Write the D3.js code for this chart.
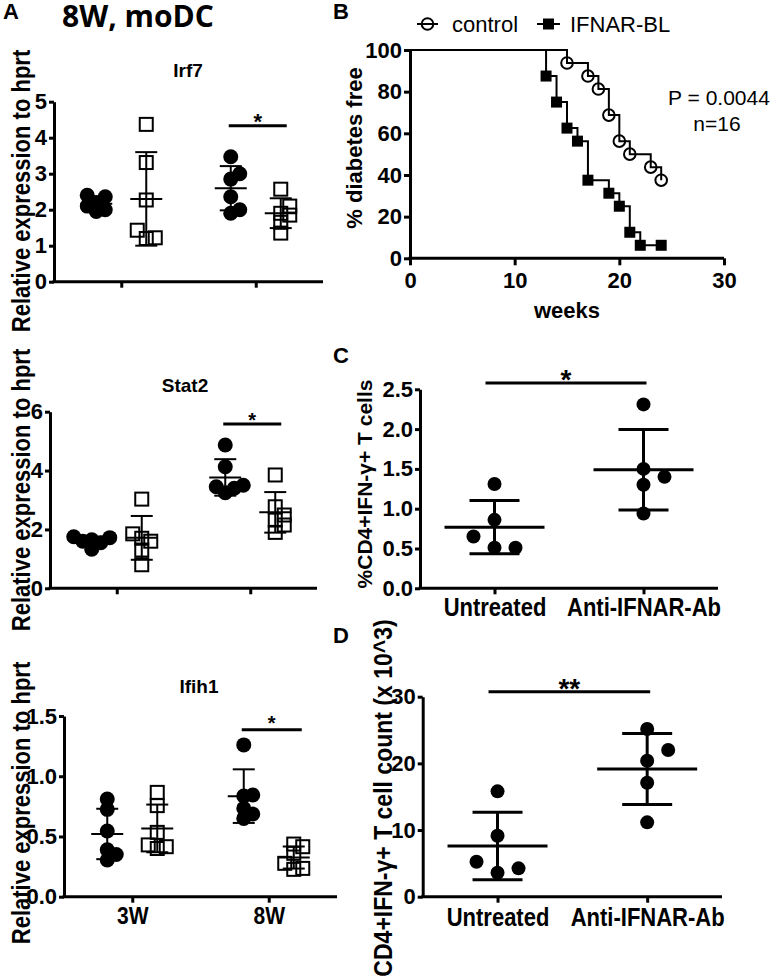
<!DOCTYPE html>
<html>
<head>
<meta charset="utf-8">
<script src="https://cdn.jsdelivr.net/npm/d3@7"></script>
<style>
  html, body { margin: 0; padding: 0; background: #fff; }
  svg { display: block; }
</style>
</head>
<body>
<svg id="chart" width="774" height="977"></svg>
<script>
// ---------------- DATA ----------------
const ageCategories = ["3W", "8W"];

// Panel A (moDC gene expression); control = filled circles, IFNAR-BL = open squares
const irf7Control3W = [2.36, 2.4, 2.2, 2.1, 1.95, 2.0];
const irf7Blocked3W = [4.37, 3.31, 2.27, 1.43, 1.22, 1.2];
const irf7Control8W = [3.47, 3.0, 2.85, 2.36, 1.9, 2.0];
const irf7Blocked8W = [2.57, 2.1, 1.9, 1.85, 1.65, 1.35];
const irf7Ticks = [0, 1, 2, 3, 4, 5];

const stat2Control3W = [1.75, 1.72, 1.65, 1.6, 1.55, 1.33];
const stat2Blocked3W = [3.03, 1.85, 1.7, 1.6, 1.3, 0.8];
const stat2Control8W = [4.87, 4.13, 3.5, 3.45, 3.4, 3.25];
const stat2Blocked8W = [3.85, 2.77, 2.49, 2.32, 2.15, 1.9];
const stat2Ticks = [0, 2, 4, 6];

const ifih1Control3W = [0.81, 0.725, 0.545, 0.39, 0.35, 0.305];
const ifih1Blocked3W = [0.866, 0.756, 0.534, 0.43, 0.415, 0.4];
const ifih1Control8W = [1.26, 0.844, 0.836, 0.733, 0.686, 0.65];
const ifih1Blocked8W = [0.437, 0.415, 0.36, 0.277, 0.235, 0.227];
const ifih1Ticks = [0, 0.5, 1.0, 1.5];

// Panel B (diabetes-free survival)
const controlWeeks = [0, 15, 17, 18, 19, 20, 21, 23, 24];
const controlFree  = [100, 93.75, 87.5, 81.25, 68.75, 56.25, 50, 43.75, 37.5];
const blockedWeeks = [0, 13, 14, 15, 16, 17, 19, 20, 21, 22, 24];
const blockedFree  = [100, 87.5, 75, 62.5, 56.25, 37.5, 31.25, 25, 12.5, 6.25, 6.25];
const survivalXTicks = [0, 10, 20, 30];
const survivalYTicks = [0, 20, 40, 60, 80, 100];
const seriesNames = ["control", "IFNAR-BL"];

// Panels C and D
const treatmentCategories = ["Untreated", "Anti-IFNAR-Ab"];
const pctUntreated = [1.31, 0.86, 0.65, 0.51, 0.51];
const pctAntiIfnar = [2.31, 1.5, 1.4, 1.3, 0.94];
const pctTicks = [0, 0.5, 1.0, 1.5, 2.0, 2.5];
const countUntreated = [15.8, 9.15, 5.25, 4.25, 3.6];
const countAntiIfnar = [25.15, 22.0, 20.4, 17.1, 11.15];
const countTicks = [0, 10, 20, 30];

// ---------------- DRAWING ----------------
const FONT = "'Liberation Sans', Arial, Helvetica, sans-serif";
const svg = d3.select("#chart");

// draw text at a larger size but squeezed to the advance width of a smaller size (narrow look)
function condense(sel, baseSize, bigSize) {
  sel.each(function () {
    const t = d3.select(this);
    t.style("font-size", baseSize + "px");
    const w = this.getComputedTextLength();
    t.style("font-size", bigSize + "px").attr("textLength", w).attr("lengthAdjust", "spacingAndGlyphs");
  });
}

function swarmOffsets(vals, y, step, minDist) {
  const order = vals.map((v, i) => i).sort((a, b) => vals[a] - vals[b]);
  const placed = [];
  const off = new Array(vals.length).fill(0);
  order.forEach(i => {
    const py = y(vals[i]);
    for (let k = 0; k < 30; k++) {
      const slot = k === 0 ? 0 : (k % 2 === 1 ? (k + 1) / 2 : -k / 2);
      if (!placed.some(p => p.slot === slot && Math.abs(p.y - py) < minDist)) {
        placed.push({ slot, y: py });
        off[i] = slot * step;
        break;
      }
    }
  });
  return off;
}

function styleAxis(g, width, fontSize) {
  g.select(".domain").attr("stroke", "#000").attr("stroke-width", width);
  g.selectAll(".tick line").attr("stroke", "#000").attr("stroke-width", width);
  g.selectAll(".tick text").attr("fill", "#000")
    .style("font-family", FONT).style("font-weight", "bold").style("font-size", fontSize + "px");
}

function dotPanel(cfg) {
  const g = svg.append("g");
  const x = d3.scalePoint().domain(cfg.categories).range([cfg.x0, cfg.x1]).padding(0.5);
  const y = d3.scaleLinear().domain([0, cfg.yMax]).range([cfg.y0, cfg.y1]);

  // axes
  const ya = g.append("g").attr("transform", `translate(${cfg.x0},0)`)
    .call(d3.axisLeft(y).tickValues(cfg.ticks).tickFormat(cfg.format || d3.format("d"))
      .tickSize(5).tickSizeOuter(0).tickPadding(cfg.yPad || 2));
  styleAxis(ya, 3, cfg.tickFont);
  const xa = g.append("g").attr("transform", `translate(0,${cfg.y0})`)
    .call(d3.axisBottom(x).tickSize(6).tickSizeOuter(0).tickPadding(cfg.xPad || 6));
  styleAxis(xa, 3, cfg.xFont || cfg.tickFont);
  if (!cfg.showXLabels) xa.selectAll(".tick text").remove();
  else if (cfg.xBig) condense(xa.selectAll(".tick text"), cfg.xFont, cfg.xBig);
  xa.select(".domain").attr("d", `M${cfg.x0 - 1.5},0H${cfg.x1}`);

  // groups
  cfg.groups.forEach(gr => {
    const cx = x(gr.cat) + gr.offset;
    const offs = swarmOffsets(gr.values, y, cfg.step, cfg.minDist);
    const pts = g.append("g");
    gr.values.forEach((v, i) => {
      if (gr.shape === "circle") {
        pts.append("circle").attr("cx", cx + offs[i]).attr("cy", y(v)).attr("r", cfg.r).attr("fill", "#000");
      } else {
        const s = cfg.sq;
        pts.append("rect").attr("x", cx + offs[i] - s / 2).attr("y", y(v) - s / 2)
          .attr("width", s).attr("height", s).attr("fill", "none").attr("stroke", "#000").attr("stroke-width", 2);
      }
    });
    const m = d3.mean(gr.values), sd = d3.deviation(gr.values);
    const eb = g.append("g").attr("stroke", "#000").attr("stroke-width", cfg.ebWidth);
    eb.append("line").attr("x1", cx - cfg.meanHalf).attr("x2", cx + cfg.meanHalf).attr("y1", y(m)).attr("y2", y(m));
    eb.append("line").attr("x1", cx).attr("x2", cx).attr("y1", y(m - sd)).attr("y2", y(m + sd));
    [m - sd, m + sd].forEach(v => eb.append("line").attr("x1", cx - cfg.capHalf).attr("x2", cx + cfg.capHalf)
      .attr("y1", y(v)).attr("y2", y(v)));
  });

  // significance
  const s = cfg.sig;
  const sx1 = x(s.fromCat) + s.fromOff, sx2 = x(s.toCat) + s.toOff;
  g.append("line").attr("x1", sx1).attr("x2", sx2).attr("y1", y(s.yVal)).attr("y2", y(s.yVal))
    .attr("stroke", "#000").attr("stroke-width", 3);
  g.append("text").attr("x", (sx1 + sx2) / 2).attr("y", y(s.yVal) + s.starDy)
    .attr("text-anchor", "middle").style("font-family", FONT).style("font-weight", "bold")
    .style("font-size", s.starSize + "px").text(s.label);

  // title
  if (cfg.title) {
    g.append("text").attr("x", cfg.titleX).attr("y", cfg.titleY).attr("text-anchor", "middle")
      .style("font-family", FONT).style("font-weight", "bold").style("font-size", "19px").text(cfg.title);
  }
  // y label
  const yl = g.append("text").attr("transform", `translate(${cfg.ylX},${cfg.ylY}) rotate(-90)`)
    .attr("text-anchor", "middle").style("font-family", FONT).style("font-weight", "bold")
    .style("font-size", cfg.ylFont + "px").text(cfg.ylabel);
  if (cfg.ylBig) condense(yl, cfg.ylFont, cfg.ylBig);
}

const aCommon = {
  categories: ageCategories, r: 7.5, sq: 13, step: 9, minDist: 9,
  meanHalf: 16, capHalf: 11, ebWidth: 2, tickFont: 22, ylFont: 22, ylBig: 25,
  ylabel: "Relative expression to hprt", ylX: 30
};

dotPanel(Object.assign({}, aCommon, {
  x0: 54, x1: 323, y0: 281.7, y1: 101.7, yMax: 5, ticks: irf7Ticks,
  groups: [
    { cat: "3W", offset: -25, values: irf7Control3W, shape: "circle" },
    { cat: "3W", offset: 25, values: irf7Blocked3W, shape: "square" },
    { cat: "8W", offset: -25, values: irf7Control8W, shape: "circle" },
    { cat: "8W", offset: 25, values: irf7Blocked8W, shape: "square" }
  ],
  sig: { fromCat: "8W", fromOff: -27, toCat: "8W", toOff: 31, yVal: 4.33, label: "*", starSize: 22, starDy: 3 },
  title: "Irf7", titleX: 188, titleY: 77, ylY: 191
}));

dotPanel(Object.assign({}, aCommon, {
  x0: 50, x1: 317, y0: 588.3, y1: 411.7, yMax: 6, ticks: stat2Ticks,
  groups: [
    { cat: "3W", offset: -25, values: stat2Control3W, shape: "circle" },
    { cat: "3W", offset: 25, values: stat2Blocked3W, shape: "square" },
    { cat: "8W", offset: -25, values: stat2Control8W, shape: "circle" },
    { cat: "8W", offset: 25, values: stat2Blocked8W, shape: "square" }
  ],
  sig: { fromCat: "8W", fromOff: -27, toCat: "8W", toOff: 31, yVal: 5.58, label: "*", starSize: 20, starDy: 3 },
  title: "Stat2", titleX: 185, titleY: 392, ylY: 490
}));

dotPanel(Object.assign({}, aCommon, {
  x0: 64, x1: 337, y0: 896.7, y1: 716, yMax: 1.5, ticks: ifih1Ticks, format: d3.format(".1f"),
  showXLabels: true, xFont: 21, xBig: 23, xPad: 5,
  groups: [
    { cat: "3W", offset: -25, values: ifih1Control3W, shape: "circle" },
    { cat: "3W", offset: 25, values: ifih1Blocked3W, shape: "square" },
    { cat: "8W", offset: -25, values: ifih1Control8W, shape: "circle" },
    { cat: "8W", offset: 25, values: ifih1Blocked8W, shape: "square" }
  ],
  sig: { fromCat: "8W", fromOff: -27, toCat: "8W", toOff: 33, yVal: 1.385, label: "*", starSize: 20, starDy: 0 },
  title: "Ifih1", titleX: 199, titleY: 693, ylY: 803
}));

const cdCommon = {
  categories: treatmentCategories, r: 7, sq: 13, step: 21, minDist: 15,
  meanHalf: 50, capHalf: 25, ebWidth: 3, tickFont: 22, xFont: 22, xBig: 26, showXLabels: true
};

dotPanel(Object.assign({}, cdCommon, {
  x0: 420, x1: 718, y0: 588.3, y1: 389.3, yMax: 2.5, ticks: pctTicks, format: d3.format(".1f"),
  xPad: 3,
  groups: [
    { cat: "Untreated", offset: 0, values: pctUntreated, shape: "circle" },
    { cat: "Anti-IFNAR-Ab", offset: 0, values: pctAntiIfnar, shape: "circle" }
  ],
  sig: { fromCat: "Untreated", fromOff: -9, toCat: "Anti-IFNAR-Ab", toOff: 3, yVal: 2.58, label: "*", starSize: 28, starDy: 6 },
  ylabel: "%CD4+IFN-\u03b3+ T cells", ylX: 372, ylY: 484, ylFont: 21
}));

dotPanel(Object.assign({}, cdCommon, {
  x0: 422.7, x1: 722, y0: 896.7, y1: 696.7, yMax: 30, ticks: countTicks,
  xPad: 5,
  groups: [
    { cat: "Untreated", offset: 0, values: countUntreated, shape: "circle" },
    { cat: "Anti-IFNAR-Ab", offset: 0, values: countAntiIfnar, shape: "circle" }
  ],
  sig: { fromCat: "Untreated", fromOff: -9, toCat: "Anti-IFNAR-Ab", toOff: 3, yVal: 30.75, label: "**", starSize: 28, starDy: 6 },
  ylabel: "CD4+IFN-\u03b3+ T cell count (x 10^3)", ylX: 392, ylY: 798, ylFont: 23, ylBig: 26
}));

// ---------------- Panel B ----------------
(function () {
  const g = svg.append("g");
  const x = d3.scaleLinear().domain([0, 30]).range([410, 724]);
  const y = d3.scaleLinear().domain([0, 100]).range([258.3, 50]);
  const ya = g.append("g").attr("transform", "translate(410,0)")
    .call(d3.axisLeft(y).tickValues(survivalYTicks).tickSize(6).tickSizeOuter(0).tickPadding(2));
  styleAxis(ya, 3, 22);
  const xa = g.append("g").attr("transform", "translate(0,258.3)")
    .call(d3.axisBottom(x).tickValues(survivalXTicks).tickSize(7).tickSizeOuter(0).tickPadding(7));
  styleAxis(xa, 3, 22);
  xa.select(".domain").attr("d", "M408.5,0H724");

  const line = d3.line().x(d => x(d[0])).y(d => y(d[1])).curve(d3.curveStepAfter);
  const ctrl = controlWeeks.map((w, i) => [w, controlFree[i]]);
  const blk = blockedWeeks.map((w, i) => [w, blockedFree[i]]);
  g.append("path").attr("d", line(blk)).attr("fill", "none").attr("stroke", "#000").attr("stroke-width", 2);
  g.append("path").attr("d", line(ctrl)).attr("fill", "none").attr("stroke", "#000").attr("stroke-width", 2);
  blk.slice(1).forEach(d => g.append("rect").attr("x", x(d[0]) - 5.5).attr("y", y(d[1]) - 5.5)
    .attr("width", 11).attr("height", 11).attr("fill", "#000"));
  ctrl.slice(1).forEach(d => g.append("circle").attr("cx", x(d[0])).attr("cy", y(d[1])).attr("r", 5.8)
    .attr("fill", "none").attr("stroke", "#000").attr("stroke-width", 2));

  // legend
  const lg = g.append("g");
  lg.append("line").attr("x1", 417).attr("x2", 438).attr("y1", 24).attr("y2", 24).attr("stroke", "#000").attr("stroke-width", 2);
  lg.append("circle").attr("cx", 427.5).attr("cy", 24).attr("r", 5.8).attr("fill", "none").attr("stroke", "#000").attr("stroke-width", 2);
  lg.append("text").attr("x", 452).attr("y", 32).style("font-family", FONT).style("font-size", "22px").text(seriesNames[0]);
  lg.append("line").attr("x1", 537).attr("x2", 560).attr("y1", 24).attr("y2", 24).attr("stroke", "#000").attr("stroke-width", 2);
  lg.append("rect").attr("x", 543).attr("y", 18.5).attr("width", 11).attr("height", 11).attr("fill", "#000");
  lg.append("text").attr("x", 570).attr("y", 32).style("font-family", FONT).style("font-size", "22px").text(seriesNames[1]);

  g.append("text").attr("x", 719).attr("y", 105).attr("text-anchor", "middle")
    .style("font-family", FONT).style("font-size", "21px").text("P = 0.0044");
  g.append("text").attr("x", 717).attr("y", 131).attr("text-anchor", "middle")
    .style("font-family", FONT).style("font-size", "21px").text("n=16");

  g.append("text").attr("x", 567).attr("y", 318).attr("text-anchor", "middle")
    .style("font-family", FONT).style("font-weight", "bold").style("font-size", "22px").text("weeks");
  g.append("text").attr("transform", "translate(362,148) rotate(-90)").attr("text-anchor", "middle")
    .style("font-family", FONT).style("font-weight", "bold").style("font-size", "22px").text("% diabetes free");
})();

// ---------------- Panel letters and title ----------------
[["A", 3, 19], ["B", 333, 19], ["C", 333, 363], ["D", 333, 643]].forEach(([t, lx, ly]) => {
  svg.append("text").attr("x", lx).attr("y", ly).style("font-family", FONT).style("font-weight", "bold")
    .style("font-size", "22px").text(t);
});
svg.append("text").attr("x", 62).attr("y", 27).style("font-family", "'Open Sans', sans-serif")
  .style("font-weight", "bold").style("font-size", "30px").text("8W, moDC");
</script>
</body>
</html>
